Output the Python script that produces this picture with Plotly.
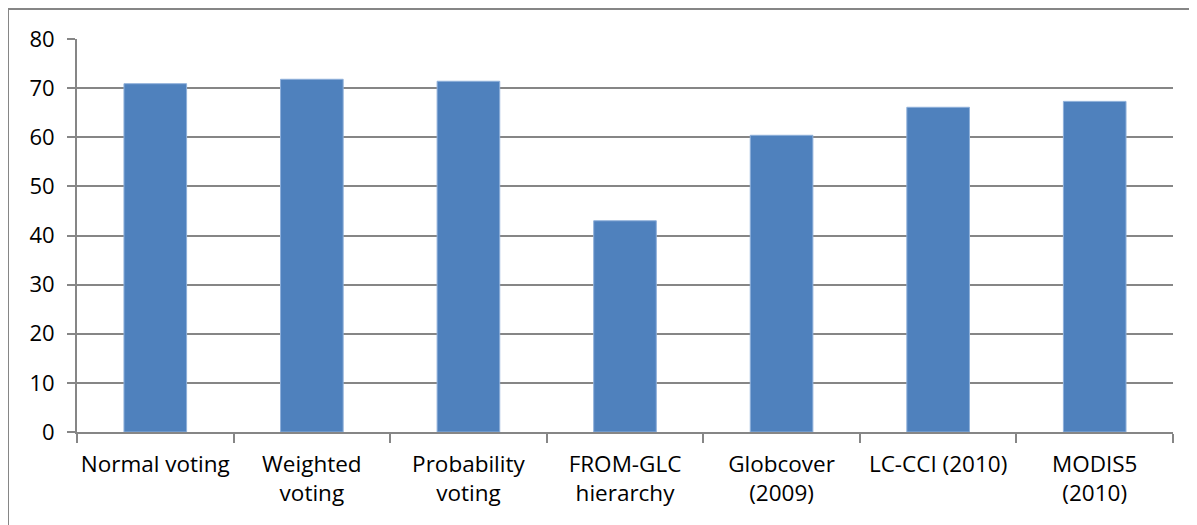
import plotly.graph_objects as go

categories = ["Normal voting", "Weighted voting", "Probability voting", "FROM-GLC hierarchy",
              "Globcover (2009)", "LC-CCI (2010)", "MODIS5 (2010)"]
tick_labels = ["Normal voting", "Weighted<br>voting", "Probability<br>voting", "FROM-GLC<br>hierarchy",
               "Globcover<br>(2009)", "LC-CCI (2010)", "MODIS5<br>(2010)"]
values = [70.9, 71.8, 71.4, 43.0, 60.4, 66.1, 67.3]
y_ticks = [0, 10, 20, 30, 40, 50, 60, 70, 80]

# page has an 8px body margin, so the figure sits at (8, 8)
W, H = 1189, 517
L, R, T, B = 69, 24, 31, 93
pw, ph = W - L - R, H - T - B

fig = go.Figure(go.Bar(
    x=categories, y=values, width=0.4,
    marker=dict(color="#4F81BD", line=dict(color="#8FB0DA", width=1)),
))

fig.update_layout(
    width=W, height=H,
    margin=dict(l=L, r=R, t=T, b=B, autoexpand=False),
    paper_bgcolor="white", plot_bgcolor="white",
    showlegend=False,
    font=dict(family="Open Sans, Liberation Sans, sans-serif", size=22, color="black"),
    bargap=0.6,
)
fig.update_xaxes(
    tickmode="array", tickvals=categories, ticktext=tick_labels, tickangle=0,
    tickson="boundaries", ticks="outside", ticklen=9, tickcolor="#868686", tickwidth=2,
    showline=True, linecolor="#868686", linewidth=2,
    showgrid=False, tickfont=dict(size=22.5), ticklabelstandoff=11,
)
fig.update_yaxes(
    range=[0, 80], tickvals=y_ticks, ticks="outside", ticklen=8, tickcolor="#868686", tickwidth=2,
    showline=True, linecolor="#868686", linewidth=2,
    showgrid=True, gridcolor="#868686", gridwidth=2, zeroline=False,
    tickfont=dict(size=22), ticklabelstandoff=8,
)
# outer chart border (partially visible)
fig.add_shape(type="rect", xref="paper", yref="paper",
              x0=(0 - L) / pw, x1=(W + 10 - L) / pw,
              y0=-(H + 10 - T - ph) / ph, y1=(H - B - 1) / ph,
              line=dict(color="#868686", width=2), fillcolor="rgba(0,0,0,0)", layer="below")

fig.write_html("out.html")
